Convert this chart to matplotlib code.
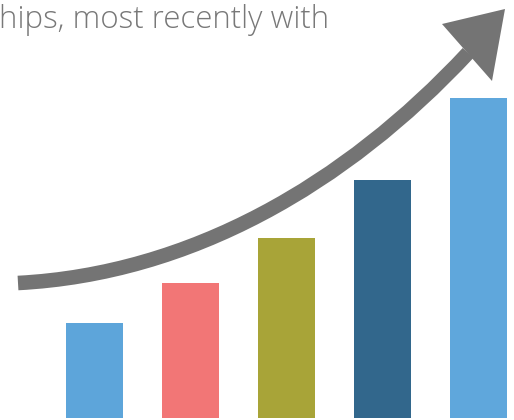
import matplotlib.pyplot as plt
from matplotlib.path import Path
from matplotlib.patches import PathPatch, Polygon

# bar data (arbitrary units)
categories = ["1", "2", "3", "4", "5"]
values = [95, 135, 180, 238, 320]
colors = ["#5DA5DA", "#F27676", "#A8A438", "#32678C", "#5FA7DC"]
caption = "hips, most recently with"

fig = plt.figure(figsize=(5.14, 4.20), dpi=100)

# bars
ax = fig.add_axes([0, 2 / 420, 1, 418 / 420])
xpos = range(len(values))
ax.bar(xpos, values, width=0.594, color=colors)
ax.set_xlim(-0.984, 4.370)
ax.set_ylim(0, 418)
ax.axis("off")

# overlay in pixel coordinates for the arrow and text
ov = fig.add_axes([0, 0, 1, 1])
ov.set_xlim(0, 514)
ov.set_ylim(420, 0)
ov.axis("off")
ov.patch.set_alpha(0)

gray = "#747474"
verts = [(18, 283), (190, 274), (345, 185), (468, 53)]
codes = [Path.MOVETO, Path.CURVE4, Path.CURVE4, Path.CURVE4]
ov.add_patch(PathPatch(Path(verts, codes), facecolor="none", edgecolor=gray,
                       lw=10.5, capstyle="butt"))
ov.add_patch(Polygon([(505, 9), (442, 24), (492, 81)], closed=True,
                     facecolor=gray, edgecolor="none"))

ov.text(-1, 28, caption, fontsize=22.5, color="#787878", family="Open Sans",
        fontweight="light", ha="left", va="baseline")

fig.savefig("out.png", dpi=100)
